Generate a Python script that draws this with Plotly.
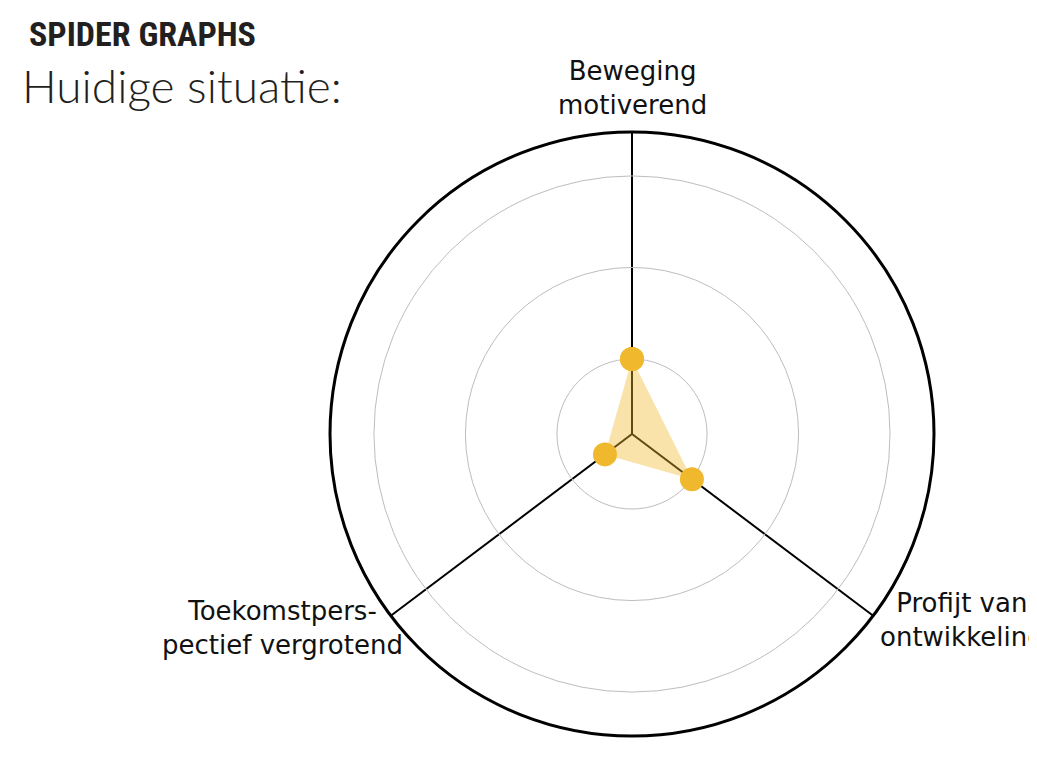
import math
import plotly.graph_objects as go

categories = ["Beweging<br>motiverend", "Profijt van<br>ontwikkeling", "Toekomstpers-<br>pectief vergrotend"]
axis_angles = [90, 323, 217]
values = [1.0, 1.0, 0.55]
grid_levels = [1, 2, 3]
title_main = "SPIDER GRAPHS"
title_sub = "Huidige situatie:"

W, H = 1037, 764
OFF = 8  # page body margin offset
cx, cy, R = 632 - OFF, 434 - OFF, 302

fig = go.Figure()
fig.add_trace(go.Scatterpolar(
    r=values + [values[0]],
    theta=axis_angles + [axis_angles[0]],
    thetaunit="degrees",
    mode="markers",
    fill="toself",
    fillcolor="rgba(241,186,44,0.40)",
    line=dict(width=0, color="rgba(0,0,0,0)"),
    marker=dict(size=24, color="#f0b92d"),
    hoverinfo="skip",
))

# axis label placement (offsets from spoke ends, in px)
label_style = [
    dict(xanchor="center", yanchor="bottom", dx=0, dy=-10),
    dict(xanchor="left", yanchor="middle", dx=5, dy=4),
    dict(xanchor="right", yanchor="middle", dx=14, dy=12),
]
annotations = []
for text, ang, st in zip(categories, axis_angles, label_style):
    ex = cx + R * math.cos(math.radians(ang))
    ey = cy - R * math.sin(math.radians(ang))
    annotations.append(dict(
        text=text, x=(ex + st["dx"]) / W, y=1 - (ey + st["dy"]) / H,
        xref="paper", yref="paper", xanchor=st["xanchor"], yanchor=st["yanchor"],
        align="center", showarrow=False,
        font=dict(family="DejaVu Sans", size=26, color="#111111"),
    ))

annotations += [
    dict(text=title_main, x=(27 - OFF) / W, y=1 - (12 - OFF) / H, xref="paper", yref="paper",
         xanchor="left", yanchor="top", showarrow=False,
         font=dict(family="Liberation Sans Narrow, Roboto Condensed, DejaVu Sans Condensed",
                   size=34, color="#231f20", weight="bold")),
    dict(text=title_sub, x=(20 - OFF) / W, y=1 - (56 - OFF) / H, xref="paper", yref="paper",
         xanchor="left", yanchor="top", showarrow=False,
         font=dict(family="Lato", size=46, color="#231f20", weight=300)),
]

fig.update_layout(
    width=W, height=H,
    margin=dict(l=0, r=0, t=0, b=0),
    paper_bgcolor="white",
    plot_bgcolor="white",
    showlegend=False,
    polar=dict(
        domain=dict(x=[(cx - R) / W, (cx + R) / W], y=[(H - cy - R) / H, (H - cy + R) / H]),
        bgcolor="white",
        radialaxis=dict(
            range=[0.18, 3.48], tickvals=grid_levels, showticklabels=False, ticks="",
            showline=False, gridcolor="#bdbdbd", gridwidth=1,
        ),
        angularaxis=dict(
            type="linear", thetaunit="degrees", rotation=0, direction="counterclockwise",
            tickmode="array", tickvals=axis_angles, ticktext=categories, showticklabels=False,
            showline=True, linecolor="black", linewidth=3,
            gridcolor="black", gridwidth=2, ticks="",
        ),
    ),
    annotations=annotations,
)

fig.write_html("out.html")
